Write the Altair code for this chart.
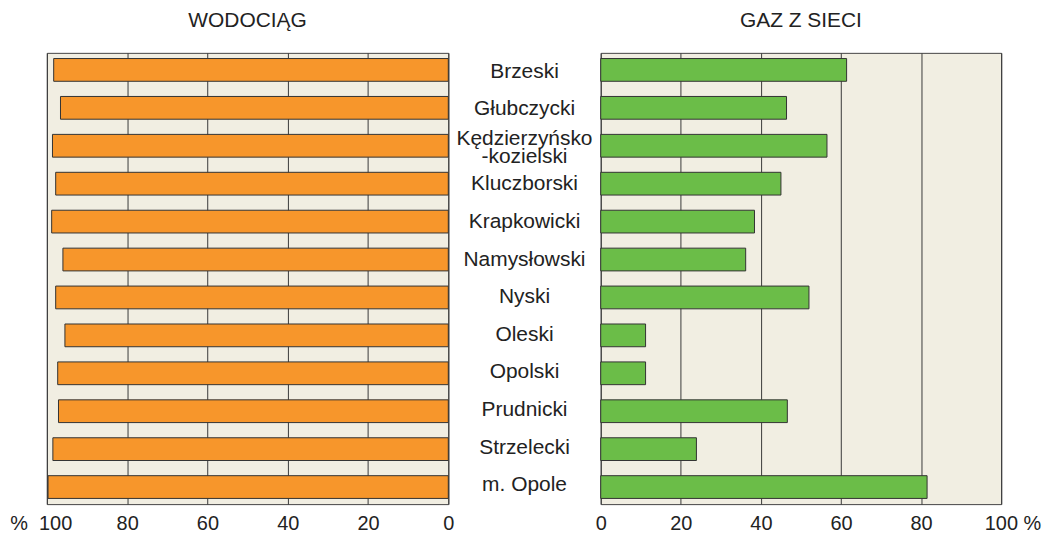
import altair as alt
import pandas as pd

districts = ["Brzeski", "Głubczycki", "Kędzierzyńsko\n-kozielski", "Kluczborski",
             "Krapkowicki", "Namysłowski", "Nyski", "Oleski", "Opolski",
             "Prudnicki", "Strzelecki", "m. Opole"]
water = [98.3, 96.6, 98.6, 97.8, 98.8, 96.0, 97.8, 95.5, 97.3, 97.1, 98.5, 99.7]
gas = [61.4, 46.4, 56.5, 45.0, 38.4, 36.2, 52.0, 11.2, 11.2, 46.6, 23.9, 81.5]
ticks = [0, 20, 40, 60, 80, 100]

df = pd.DataFrame({"district": districts, "water": water, "gas": gas})

FONT = "Liberation Sans"
BG = "#F1EEE2"
yscale = alt.Scale(domain=districts, paddingInner=0.4, paddingOuter=0.15)
H = 453

def xaxis(expr, align_cond, offset_cond):
    return alt.Axis(values=ticks, grid=True, ticks=False, domain=False,
                    gridColor="#3a3a3a", gridWidth=1, gridOpacity=1,
                    labelFont=FONT, labelFontSize=20, labelColor="#222",
                    labelPadding=9, labelExpr=expr, title=None,
                    labelAlign={"condition": {"test": "datum.value == 100", "value": align_cond}, "value": "center"},
                    labelOffset={"condition": {"test": "datum.value == 100", "value": offset_cond}, "value": 0},
                    labelFlush=False, labelOverlap=False)

title_kw = dict(font=FONT, fontSize=21, fontWeight="normal", color="#222", anchor="middle", offset=22)

left = alt.Chart(df).mark_bar(color="#F7962B", stroke="#333", strokeWidth=1).encode(
    x=alt.X("water:Q", scale=alt.Scale(domain=[0, 100], reverse=True, nice=False),
            axis=xaxis("datum.value == 100 ? '%\u00a0\u00a0100' : datum.label", "right", 25)),
    y=alt.Y("district:N", scale=yscale, axis=None, sort=districts),
).properties(width=403, height=H, title=alt.TitleParams("WODOCIĄG", **title_kw))

txt_base = alt.Chart(df).encode(
    y=alt.Y("district:N", scale=yscale, axis=None, sort=districts),
    x=alt.value(76.5),
    text="district:N",
)
txt_kw = dict(font=FONT, fontSize=21, color="#222", lineBreak="\n", align="center",
              baseline="middle", lineHeight=18)
single = txt_base.mark_text(**txt_kw).transform_filter("indexof(datum.district, '\\n') < 0")
multi = txt_base.mark_text(dy=-8, **txt_kw).transform_filter("indexof(datum.district, '\\n') >= 0")
middle = alt.layer(single, multi).properties(
    width=153, height=H, view=alt.ViewConfig(stroke=None, fill=None))

right = alt.Chart(df).mark_bar(color="#6BBD48", stroke="#333", strokeWidth=1).encode(
    x=alt.X("gas:Q", scale=alt.Scale(domain=[0, 100], nice=False),
            axis=xaxis("datum.value == 100 ? '100\u00a0%' : datum.label", "left", -17)),
    y=alt.Y("district:N", scale=yscale, axis=None, sort=districts),
).properties(width=402, height=H, title=alt.TitleParams("GAZ Z SIECI", **title_kw))

chart = alt.hconcat(left, middle, right, spacing=0, bounds="flush").properties(
    padding={"left": 1, "top": 0, "right": 5, "bottom": 5},
    background="white",
).configure_view(fill=BG, stroke="#444", strokeWidth=1)

chart.save("out.html", embed_options={"renderer": "svg", "actions": False})
